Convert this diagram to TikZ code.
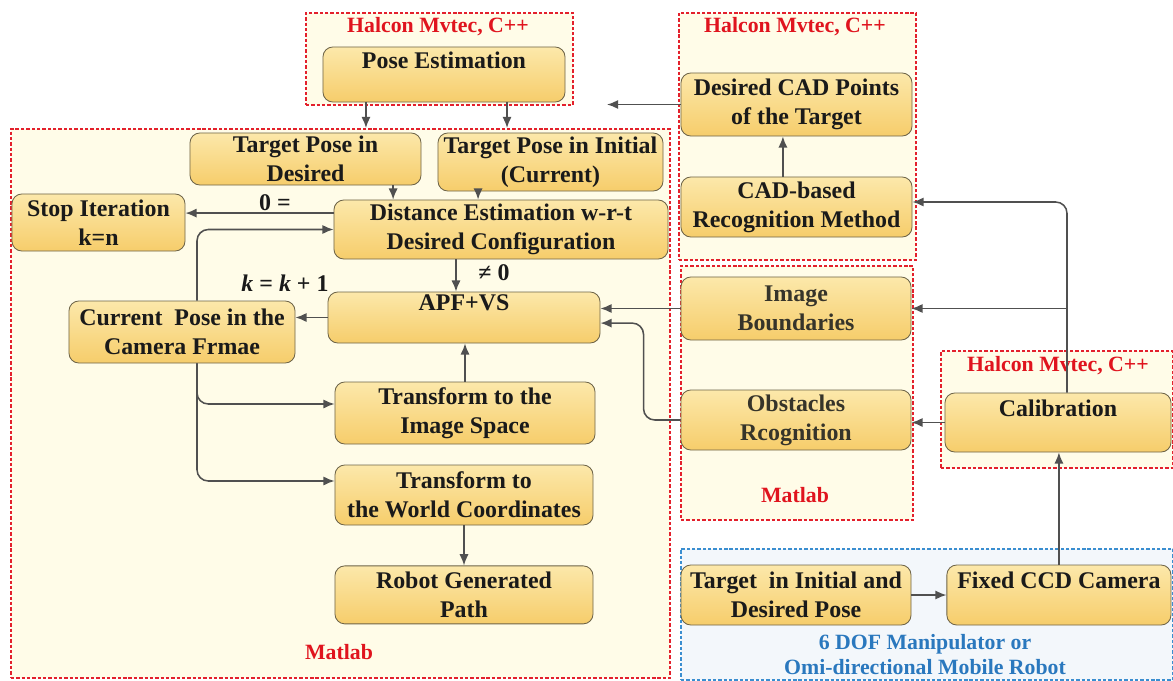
\documentclass[tikz,border=0pt]{standalone}
\usepackage{fontspec}
\setmainfont{Liberation Serif}
\usetikzlibrary{arrows.meta, positioning}
\definecolor{ink}{HTML}{1A1A1A}
\definecolor{soft}{HTML}{36342A}
\definecolor{wire}{HTML}{505050}
\definecolor{edge}{HTML}{6E6448}
\definecolor{goldtop}{HTML}{FCE8AA}
\definecolor{goldbot}{HTML}{F6CD6B}
\definecolor{cream}{HTML}{FFFCE8}
\definecolor{halred}{HTML}{E3202C}
\definecolor{robblue}{HTML}{3A8ED0}
\definecolor{robfill}{HTML}{F3F7FB}
\definecolor{labred}{HTML}{E0141E}
\definecolor{labblue}{HTML}{2A78BE}
\tikzset{
  blk/.style  ={draw=edge, line width=0.6pt, rounded corners=7pt,
                top color=goldtop, bottom color=goldbot, align=center,
                text=ink, inner sep=2pt,
                font=\bfseries\fontsize{17}{20.6}\selectfont},
  blks/.style ={blk, text=soft},
  zone/.style ={draw=halred, line width=1.3pt, dash pattern=on 2.4pt off 1.4pt,
                fill=cream, inner sep=0pt, anchor=north west},
  zoneb/.style={zone, draw=robblue, fill=robfill},
  tag/.style  ={font=\bfseries\fontsize{15.5}{17.8}\selectfont, text=labred, align=center},
  tagb/.style ={tag, text=labblue},
  cond/.style ={font=\bfseries\fontsize{17}{20}\selectfont, text=ink},
  flow/.style ={-{Latex[length=2.8mm,width=2.3mm]}, line width=1.1pt, draw=wire}
}
\begin{document}
\begin{tikzpicture}[x=0.025cm, y=-0.025cm]
  \useasboundingbox (0,0) rectangle (1173,680);

  % frames
  \node[zone,  minimum width=6.675cm, minimum height=2.3cm]   (fpose) at (305,12)  {};
  \node[zone,  minimum width=16.475cm, minimum height=13.725cm] (fmain) at (10,128) {};
  \node[zone,  minimum width=5.925cm, minimum height=6.175cm] (fcad)  at (678,12)  {};
  \node[zone,  minimum width=5.8cm,   minimum height=6.35cm]  (fmid)  at (680,265) {};
  \node[zone,  minimum width=5.8cm,   minimum height=2.925cm] (fcal)  at (940,350) {};
  \node[zoneb, minimum width=12.3cm,  minimum height=3.275cm] (frob)  at (680,548) {};

  \node[tag] (h1) at (438,27)  {Halcon Mvtec, C++};
  \node[tag] (h2) at (795,27)  {Halcon Mvtec, C++};
  \node[tag] (h3) at (1058,366) {Halcon Mvtec, C++};
  \node[tag] (m1) at (339,652) {Matlab};
  \node[tag] (m2) at (795,495) {Matlab};
  \node[tagb] (rob) at (925,655) {6 DOF Manipulator or\\Omi-directional Mobile Robot};

  % blocks
  \node[blk, minimum width=6.05cm,  minimum height=1.375cm] (pose)   at (444,74.5)   {Pose Estimation\\\mbox{}};
  \node[blk, minimum width=5.775cm, minimum height=1.3cm]   (tpd)    at (305.5,159)  {Target Pose in\\Desired};
  \node[blk, minimum width=5.625cm, minimum height=1.45cm]  (tpi)    at (550.5,162)  {Target Pose in Initial\\(Current)};
  \node[blk, minimum width=4.325cm, minimum height=1.425cm] (stop)   at (98.5,222.5) {Stop Iteration\\k=n};
  \node[blk, minimum width=8.35cm,  minimum height=1.475cm] (dist)   at (501,229.5)  {Distance Estimation w-r-t\\Desired Configuration};
  \node[blk, minimum width=6.8cm,   minimum height=1.275cm] (apf)    at (464,317.5)  {APF+VS\\\mbox{}};
  \node[blk, minimum width=5.65cm,  minimum height=1.55cm]  (cur)    at (182,332)    {Current\ \ Pose in the\\Camera Frmae};
  \node[blk, minimum width=6.5cm,   minimum height=1.55cm]  (timg)   at (465,413)    {Transform to the\\Image Space};
  \node[blk, minimum width=6.45cm,  minimum height=1.5cm]   (twld)   at (464,495)    {Transform to\\the World Coordinates};
  \node[blk, minimum width=6.45cm,  minimum height=1.45cm, below=1cm of twld] (path) {Robot Generated\\Path};

  \node[blk,  minimum width=5.775cm, minimum height=1.575cm] (cadpt)  at (796.5,104.5) {Desired CAD Points\\of the Target};
  \node[blk,  minimum width=5.775cm, minimum height=1.5cm]   (cadrec) at (796.5,207)   {CAD-based\\Recognition Method};
  \node[blks, minimum width=5.75cm,  minimum height=1.575cm] (imgb)   at (796,308.5)   {Image\\Boundaries};
  \node[blks, minimum width=5.75cm,  minimum height=1.5cm]   (obst)   at (796,420)     {Obstacles\\Rcognition};
  \node[blk,  minimum width=5.65cm,  minimum height=1.475cm] (calib)  at (1058,422.5)  {Calibration\\\mbox{}};
  \node[blk,  minimum width=5.75cm,  minimum height=1.5cm]   (tgt)    at (796,595)     {Target\ \ in Initial and\\Desired Pose};
  \node[blk,  minimum width=5.6cm,   minimum height=1.5cm, right=0.875cm of tgt] (ccd) {Fixed CCD Camera\\\mbox{}};

  \node[cond] (c0) at (275,203) {0 =};
  \node[cond] (ck) at (285,283) {\textit{k}\ =\ \textit{k}\ +\ 1};
  \node[cond] (cn) at (494,273) {≠ 0};

  \coordinate (cadout) at (607,104.5);

  % connectors
  \draw[flow] ([xshift=-1.95cm]pose.south) -- ([xshift=-1.95cm]pose.south |- fmain.north);
  \draw[flow] ([xshift=1.575cm]pose.south) -- ([xshift=1.575cm]pose.south |- fmain.north);
  \draw[flow] (cadpt.west) -- (cadout);
  \draw[flow] ([xshift=2.19cm]tpd.south) -- ([xshift=2.19cm]tpd.south |- dist.north);
  \draw[flow] ([xshift=-1.81cm]tpi.south) -- ([xshift=-1.81cm]tpi.south |- dist.north);
  \draw[flow] ([yshift=0.41cm]dist.west) -- ([yshift=0.41cm]dist.west -| stop.east);
  \draw[flow, rounded corners=8pt] ([xshift=0.375cm]cur.north) |- (dist.west);
  \draw[flow] ([xshift=-1.125cm]dist.south) -- ([xshift=-1.125cm]dist.south |- apf.north);
  \draw[flow] (apf.west) -- (apf.west -| cur.east);
  \draw[flow] (timg.north) -- (timg.north |- apf.south);
  \draw[flow, rounded corners=8pt] ([xshift=0.375cm]cur.south) |- ([yshift=0.225cm]timg.west);
  \draw[flow, rounded corners=8pt] ([xshift=0.375cm]cur.south) |- ([yshift=0.35cm]twld.west);
  \draw[flow] (twld.south) -- (path.north);
  \draw[flow] (imgb.west) -- (imgb.west -| apf.east);
  \draw[flow, rounded corners=8pt] (obst.west) -- ++(-0.925cm,0) |- ([yshift=-0.14cm]apf.east);
  \draw[flow] ([xshift=-0.34cm]cadrec.north) -- ([xshift=-0.34cm]cadrec.north |- cadpt.south);
  \draw[flow, rounded corners=8pt] ([xshift=0.225cm]calib.north) |- ([yshift=0.125cm]cadrec.east);
  \draw[flow] ([xshift=0.225cm]calib.north |- imgb.east) -- (imgb.east);
  \draw[flow] (calib.west) -- (calib.west -| obst.east);
  \draw[flow] (ccd.north) -- (ccd.north |- calib.south);
  \draw[flow] (tgt.east) -- (ccd.west);
\end{tikzpicture}
\end{document}
